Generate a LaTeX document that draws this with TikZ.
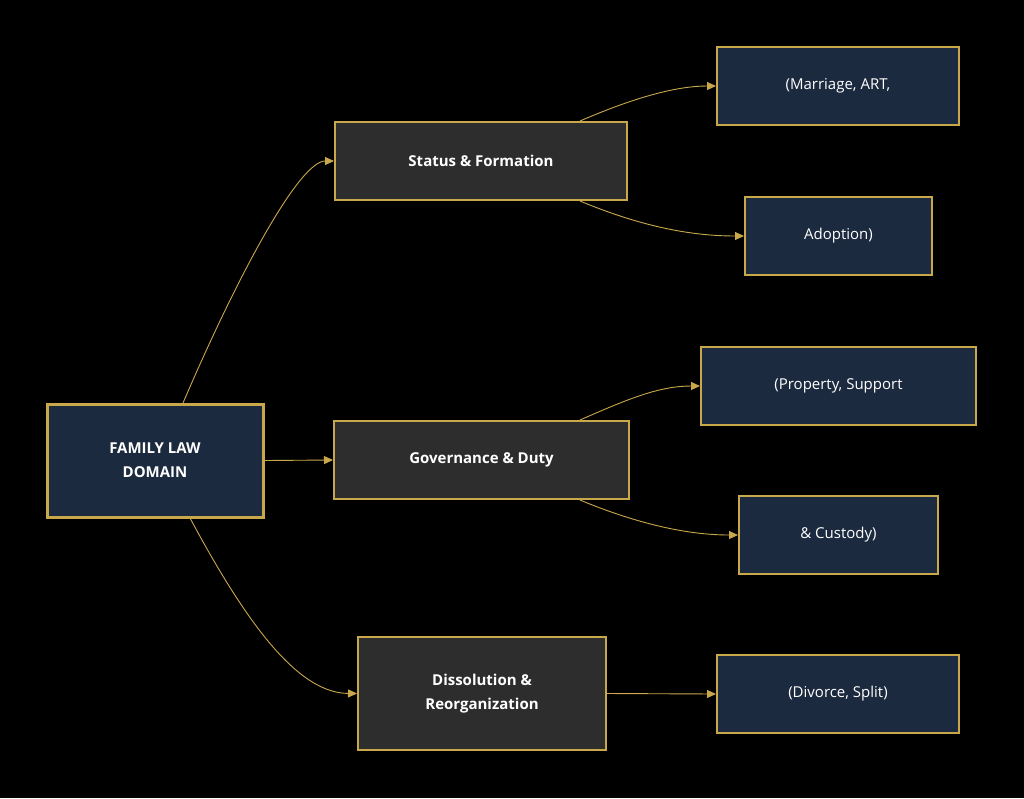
\documentclass[tikz,border=0pt]{standalone}
\usepackage{fontspec}
\setmainfont{Open Sans}
\usetikzlibrary{arrows.meta}
\definecolor{gold}{HTML}{C9A84C}
\definecolor{navy}{HTML}{1C2A3F}
\definecolor{dgray}{HTML}{2D2D2D}
\begin{document}
\begin{tikzpicture}[x=1pt,y=-1pt,
  box/.style={draw=gold,line width=2pt,text=white,font=\bfseries\fontsize{15}{20}\selectfont,align=center,inner sep=0pt},
  leaf/.style={box,fill=navy,font=\fontsize{15}{20}\selectfont},
  mid/.style={box,fill=dgray},
  conn/.style={draw=gold,line width=0.9pt,-{Triangle[length=9pt,width=8pt]}}]
\fill[black] (0,0) rectangle (1024,798);
\useasboundingbox (0,0) rectangle (1024,798);
\node[box,fill=navy,line width=3pt,minimum width=216pt,minimum height=113pt] (root) at (155,460.5) {FAMILY LAW\\[4pt]DOMAIN};
\node[mid,minimum width=292pt,minimum height=78pt] (st) at (481,161) {Status \& Formation};
\node[mid,minimum width=295pt,minimum height=78pt] (gv) at (481.5,460) {Governance \& Duty};
\node[mid,minimum width=248pt,minimum height=113pt] (ds) at (482,693.5) {Dissolution \&\\[4pt]Reorganization};
\node[leaf,minimum width=242pt,minimum height=78pt] (m) at (838,86) {(Marriage, ART,};
\node[leaf,minimum width=187pt,minimum height=78pt] (a) at (838.5,236) {Adoption)};
\node[leaf,minimum width=275pt,minimum height=78pt] (p) at (838.5,386) {(Property, Support};
\node[leaf,minimum width=199pt,minimum height=78pt] (c) at (838.5,535) {\& Custody)};
\node[leaf,minimum width=242pt,minimum height=78pt] (d) at (838,694) {(Divorce, Split)};
\coordinate (r1) at (183,403);
\coordinate (r3) at (190,518);
\coordinate (s1) at (580,121);
\coordinate (s2) at (580,201);
\coordinate (g1) at (580,420);
\coordinate (g2) at (580,500);
\draw[conn] (r1) .. controls (240,270) and (300,161) .. (st.west);
\draw[conn] (root.east) -- (gv.west);
\draw[conn] (r3) .. controls (250,630) and (300,693) .. (ds.west);
\draw[conn] (s1) .. controls (640,95) and (680,86) .. (m.west);
\draw[conn] (s2) .. controls (640,226) and (690,236) .. (a.west);
\draw[conn] (g1) .. controls (630,398) and (660,386) .. (p.west);
\draw[conn] (g2) .. controls (640,525) and (690,535) .. (c.west);
\draw[conn] (ds.east) -- (d.west);
\end{tikzpicture}
\end{document}
